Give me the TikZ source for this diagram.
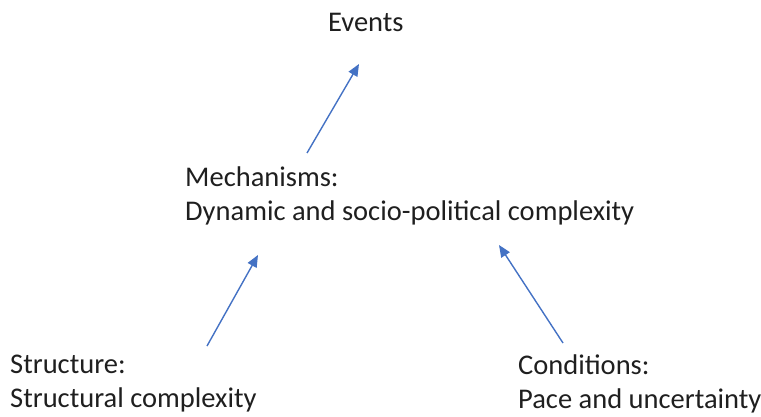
\documentclass[tikz,border=0pt]{standalone}
\usepackage{fontspec}
\setmainfont{Carlito}
\usetikzlibrary{arrows.meta}
\definecolor{arrowblue}{HTML}{4472C4}
\tikzset{
  lbl/.style={anchor=base west, align=left, inner sep=0pt, font=\fontsize{28.5pt}{34pt}\selectfont, text=black!88},
  link/.style={draw=arrowblue, line width=1.4pt, -{Triangle[length=12pt,width=10pt]}}
}
\begin{document}
\begin{tikzpicture}[x=1pt,y=1pt]
\useasboundingbox (0,0) rectangle (761,416);
\node[lbl] (events) at (328,384) {Events};
\node[lbl] (mech) at (185,196) {Mechanisms:\\Dynamic and socio-political complexity};
\node[lbl] (struct) at (10,9) {Structure:\\Structural complexity};
\node[lbl] (cond) at (518,8) {Conditions:\\Pace and uncertainty};
\coordinate (a1s) at (307,263);
\coordinate (a1e) at (359,352);
\coordinate (a2s) at (207,70);
\coordinate (a2e) at (258,161);
\coordinate (a3s) at (563,73);
\coordinate (a3e) at (499,171);
\draw[link] (a1s) -- (a1e);
\draw[link] (a2s) -- (a2e);
\draw[link] (a3s) -- (a3e);
\end{tikzpicture}
\end{document}
